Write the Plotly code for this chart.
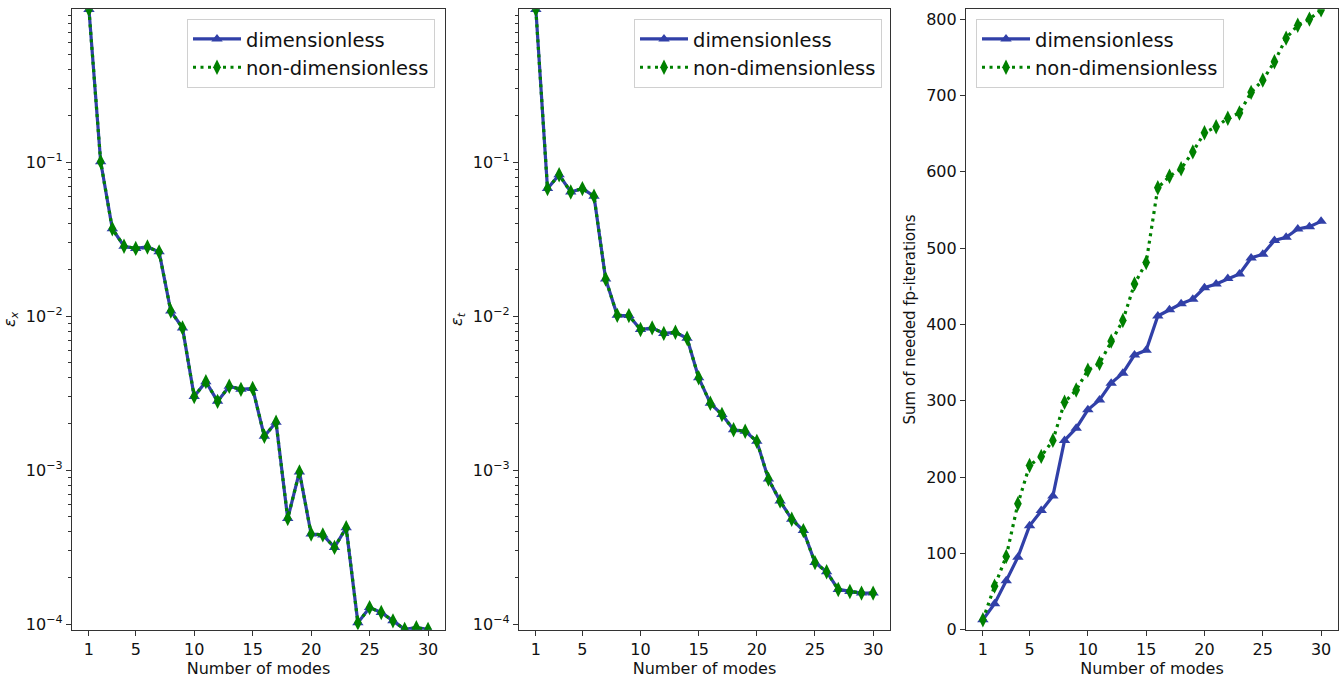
import plotly.graph_objects as go
import numpy as np

modes = list(range(1, 31))

# Left panel: eps_x (both series essentially coincide)
eps_x_dim = [0.985, 0.101, 0.037, 0.0285, 0.0276, 0.0282, 0.0262, 0.0108, 0.0084, 0.00301,
             0.00376, 0.0028, 0.00351, 0.00335, 0.0034, 0.00166, 0.00205, 0.000485, 0.000975, 0.000385,
             0.00038, 0.000315, 0.000423, 0.000102, 0.000128, 0.000119, 0.000105, 0.0000925, 0.0000948, 0.0000925]
eps_x_nondim = list(eps_x_dim)

# Middle panel: eps_t
eps_t_dim = [0.985, 0.0675, 0.083, 0.0642, 0.0675, 0.0602, 0.01745, 0.01014, 0.0101, 0.0082,
             0.0084, 0.00774, 0.00787, 0.0072, 0.00399, 0.00272, 0.0023, 0.00183, 0.00179, 0.00154,
             0.000875, 0.00063, 0.00048, 0.000405, 0.000251, 0.000219, 0.000168, 0.000163, 0.000159, 0.000159]
eps_t_nondim = list(eps_t_dim)

# Right panel: sum of needed fp-iterations
iter_dim = [13, 34, 64, 95, 136, 156, 175, 248, 264, 288,
            301, 323, 336, 360, 366, 411, 419, 427, 433, 448,
            453, 460, 466, 487, 492, 510, 514, 525, 528, 535]
iter_nondim = [13, 57, 96, 165, 215, 227, 248, 298, 314, 340,
               349, 378, 405, 453, 481, 579, 594, 604, 626, 651,
               659, 670, 677, 704, 720, 744, 775, 792, 800, 812]

x_ticks = [1, 5, 10, 15, 20, 25, 30]
log_tickvals = [1e-4, 1e-3, 1e-2, 1e-1]
log_ticktext = ["10<sup>−4</sup>", "10<sup>−3</sup>", "10<sup>−2</sup>", "10<sup>−1</sup>"]
lin_tickvals = [0, 100, 200, 300, 400, 500, 600, 700, 800]

BLUE = "#3140a8"
GREEN = "#008000"
FONT = "DejaVu Sans"
AX = "#333333"

fig = go.Figure()

panels = [
    ("x", "y", "legend", eps_x_dim, eps_x_nondim),
    ("x2", "y2", "legend2", eps_t_dim, eps_t_nondim),
    ("x3", "y3", "legend3", iter_dim, iter_nondim),
]
for xa, ya, lg, dim, nondim in panels:
    fig.add_trace(go.Scatter(
        x=modes, y=dim, xaxis=xa, yaxis=ya, legend=lg, name="dimensionless",
        mode="lines+markers", line=dict(color=BLUE, width=3.2),
        marker=dict(symbol="triangle-up", size=10, color=BLUE),
    ))
    fig.add_trace(go.Scatter(
        x=modes, y=nondim, xaxis=xa, yaxis=ya, legend=lg, name="non-dimensionless",
        mode="lines+markers", line=dict(color=GREEN, width=3.2, dash="3px,4.5px"),
        marker=dict(symbol="diamond-tall", size=11, color=GREEN),
    ))

y0, y1 = 1 - 639 / 685, 1 - 9.3 / 685
doms = [(72 / 1343, 445 / 1343), (519 / 1343, 890 / 1343), (966 / 1343, 1338 / 1343)]

minor_vals = []
for e in range(-5, 0):
    for m in range(2, 10):
        minor_vals.append(m * 10 ** e)

def xaxis_cfg(dom, anchor):
    return dict(domain=dom, anchor=anchor, range=[-0.45, 31.45], tickvals=x_ticks,
                ticks="outside", ticklen=5, tickwidth=1, tickcolor=AX,
                showline=True, linecolor=AX, linewidth=1.2, mirror=True,
                showgrid=False, zeroline=False,
                tickfont=dict(family=FONT, size=16, color="#111"),
                title=dict(text="Number of modes", font=dict(family=FONT, size=16, color="#111"), standoff=4))

def ylog_cfg(anchor, title):
    return dict(domain=[y0, y1], anchor=anchor, type="log", range=[-4.036, -0.005],
                tickvals=log_tickvals, ticktext=log_ticktext,
                ticks="outside", ticklen=5, tickwidth=1, tickcolor=AX,
                minor=dict(tickvals=minor_vals, ticks="outside", ticklen=3, tickcolor=AX, showgrid=False),
                showline=True, linecolor=AX, linewidth=1.2, mirror=True,
                showgrid=False, zeroline=False,
                tickfont=dict(family=FONT, size=16, color="#111"),
                title=dict(text=title, font=dict(family=FONT, size=16, color="#111"), standoff=6))

fig.update_layout(
    width=1343, height=685,
    margin=dict(l=0, r=0, t=0, b=0),
    paper_bgcolor="white", plot_bgcolor="white",
    font=dict(family=FONT, color="#111"),
    xaxis=xaxis_cfg(doms[0], "y"),
    xaxis2=xaxis_cfg(doms[1], "y2"),
    xaxis3=xaxis_cfg(doms[2], "y3"),
    yaxis=ylog_cfg("x", "<i>ε<sub>x</sub></i>"),
    yaxis2=ylog_cfg("x2", "<i>ε<sub>t</sub></i>"),
    yaxis3=dict(domain=[y0, y1], anchor="x3", range=[0, 813], tickvals=lin_tickvals,
                ticks="outside", ticklen=5, tickwidth=1, tickcolor=AX,
                showline=True, linecolor=AX, linewidth=1.2, mirror=True,
                showgrid=False, zeroline=False,
                tickfont=dict(family=FONT, size=16, color="#111"),
                title=dict(text="Sum of needed fp-iterations", font=dict(family=FONT, size=15, color="#111"), standoff=6)),
    showlegend=True,
)

leg_common = dict(font=dict(family=FONT, size=19.5, color="#111"), bgcolor="rgba(255,255,255,0.85)",
                  bordercolor="#d0d0d0", borderwidth=1, yanchor="top", y=1 - 19 / 685,
                  tracegroupgap=0, itemwidth=48)
fig.update_layout(
    legend=dict(**leg_common, x=435 / 1343, xanchor="right"),
    legend2=dict(**leg_common, x=882 / 1343, xanchor="right"),
    legend3=dict(**leg_common, x=976 / 1343, xanchor="left"),
)

fig.write_html("out.html")
